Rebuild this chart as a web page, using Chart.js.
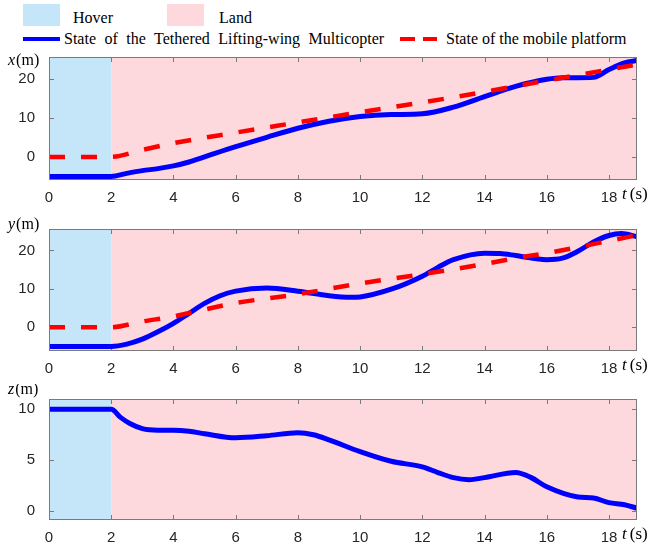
<!DOCTYPE html>
<html><head><meta charset="utf-8">
<script src="https://cdn.jsdelivr.net/npm/chart.js@4.4.0/dist/chart.umd.min.js"></script>
<style>
html,body{margin:0;padding:0;background:#fff;width:650px;height:550px;overflow:hidden;}
body{position:relative;font-family:"Liberation Serif","Times New Roman",serif;}
canvas{position:absolute;left:0;}
.sw{position:absolute;}
.lt{position:absolute;font-size:16px;color:#000;white-space:nowrap;line-height:16px;}
</style></head><body>
<div class="sw" style="left:23px;top:4px;width:37px;height:22px;background:#c5e5f9"></div>
<div class="lt" style="left:73px;top:10px">Hover</div>
<div class="sw" style="left:167px;top:4px;width:37px;height:22px;background:#fdd9de"></div>
<div class="lt" style="left:219px;top:10px">Land</div>
<div class="sw" style="left:23px;top:37px;width:37px;height:4px;background:#0000ff"></div>
<div class="lt" style="left:64px;top:31px;word-spacing:4.5px">State of the Tethered Lifting-wing Multicopter</div>
<div class="sw" style="left:400px;top:37px;width:15px;height:4px;background:#ff0000"></div>
<div class="sw" style="left:423px;top:37px;width:14px;height:4px;background:#ff0000"></div>
<div class="lt" style="left:446px;top:31px">State of the mobile platform</div>
<canvas id="c1" width="650" height="168" style="top:42px"></canvas>
<canvas id="c2" width="650" height="167" style="top:214px"></canvas>
<canvas id="c3" width="650" height="166" style="top:384px"></canvas>
<script>
// ---- data ----
const tTicks = [0, 2, 4, 6, 8, 10, 12, 14, 16, 18];
const xTicks = [0, 10, 20];
const yTicks = [0, 10, 20];
const zTicks = [0, 5, 10];
const hoverEnd = 2;

const tBlueX = [0, 1, 2, 2.5, 3, 3.5, 4, 4.5, 5, 6, 7, 8, 9, 10, 11, 12, 13, 14, 15, 16, 16.5, 17, 17.5, 18, 18.5, 18.9];
const xBlue  = [-5, -5, -5, -4.2, -3.5, -3.0, -2.3, -1.3, 0, 2.6, 5.0, 7.3, 9.1, 10.3, 10.8, 11.0, 12.7, 15.4, 18.0, 19.8, 20.2, 20.2, 20.3, 22.3, 24.0, 24.6];
const tRedX  = [0, 1, 2, 3, 4, 6, 8, 10, 12, 14, 16, 18, 18.9];
const xRed   = [0, 0, 0, 1.8, 3.5, 6.2, 8.8, 11.4, 13.9, 16.6, 19.5, 22.3, 23.6];

const tBlueY = [0, 1, 2, 2.5, 3, 3.5, 4, 4.5, 5, 5.5, 6, 7, 8, 9, 9.7, 10, 11, 12, 12.5, 13, 14, 14.5, 15, 16, 16.5, 17, 17.5, 18, 18.4, 18.9];
const yBlue  = [-5, -5, -5, -4.4, -3.1, -1.2, 1.0, 3.6, 6.2, 8.2, 9.4, 10.2, 9.4, 8.2, 7.8, 7.9, 9.9, 13.3, 15.6, 17.6, 19.3, 19.2, 18.7, 17.6, 18.0, 19.8, 22.2, 23.9, 24.4, 23.6];
const tRedY  = [0, 1, 2, 3, 4, 5, 6, 8, 10, 12, 14, 15, 16, 18, 18.9];
const yRed   = [0, 0, 0, 1.5, 2.8, 4.6, 6.3, 8.6, 11.4, 13.8, 16.5, 18.0, 19.3, 22.5, 24.0];

const tBlueZ = [0, 1, 2, 2.3, 2.6, 3, 3.5, 4, 4.5, 5, 6, 7, 8, 8.5, 9, 10, 11, 12, 12.5, 13, 13.5, 14, 15, 15.5, 16, 17, 17.5, 18, 18.5, 18.9];
const zBlue  = [10, 10, 10, 9.2, 8.6, 8.1, 7.95, 7.95, 7.85, 7.6, 7.2, 7.4, 7.7, 7.5, 7.0, 5.85, 4.9, 4.35, 3.8, 3.3, 3.1, 3.3, 3.8, 3.3, 2.4, 1.4, 1.3, 0.85, 0.65, 0.3];

// ---- styles ----
const hoverColor = '#c5e5f9';
const landColor = '#fdd9de';
const frameColor = '#7a7a7a';
const serif = '"Liberation Serif","Times New Roman",serif';

function pts(t, v) { return t.map((x, i) => ({x: x, y: v[i]})); }

const framePlugin = {
  id: 'frame',
  beforeDatasetsDraw(chart, args, o) {
    const {ctx, chartArea: a, scales: {x, y}} = chart;
    ctx.save();
    const p2 = x.getPixelForValue(hoverEnd);
    ctx.fillStyle = hoverColor;
    ctx.fillRect(a.left, a.top, p2 - a.left, a.bottom - a.top);
    ctx.fillStyle = landColor;
    ctx.fillRect(p2, a.top, a.right - p2, a.bottom - a.top);
    ctx.strokeStyle = frameColor;
    ctx.lineWidth = 1;
    ctx.beginPath();
    tTicks.forEach(v => {
      const px = Math.round(x.getPixelForValue(v)) + 0.5;
      ctx.moveTo(px, a.bottom); ctx.lineTo(px, a.bottom - 5);
      ctx.moveTo(px, a.top); ctx.lineTo(px, a.top + 5);
    });
    o.yt.forEach(v => {
      const py = Math.round(y.getPixelForValue(v)) + 0.5;
      ctx.moveTo(a.left, py); ctx.lineTo(a.left + 5, py);
      ctx.moveTo(a.right, py); ctx.lineTo(a.right - 5, py);
    });
    ctx.stroke();
    ctx.restore();
  },
  afterDatasetsDraw(chart, args, o) {
    const {ctx, chartArea: a} = chart;
    ctx.save();
    ctx.strokeStyle = frameColor;
    ctx.lineWidth = 1;
    ctx.strokeRect(Math.round(a.left) + 0.5, Math.round(a.top) + 0.5, Math.round(a.right - a.left) - 1, Math.round(a.bottom - a.top) - 1);
    ctx.fillStyle = '#000';
    ctx.textBaseline = 'middle';
    ctx.textAlign = 'left';
    // y label
    ctx.font = 'italic 16px ' + serif;
    ctx.fillText(o.v, 8, o.ly);
    const w = ctx.measureText(o.v).width;
    ctx.font = '16px ' + serif;
    ctx.fillText('(m)', 8 + w + 1, o.ly);
    // t label
    const ty = a.bottom + 14.5;
    ctx.font = 'italic 17px ' + serif;
    ctx.fillText('t', 622, ty);
    const wt = ctx.measureText('t').width;
    ctx.font = '17px ' + serif;
    ctx.fillText('(s)', 622 + wt + 3, ty);
    ctx.restore();
  }
};

function makeChart(id, datasets, yMin, yMax, yt, v, ly) {
  return new Chart(document.getElementById(id), {
    type: 'line',
    data: {datasets: datasets},
    options: {
      responsive: false,
      animation: false,
      devicePixelRatio: 1,
      layout: {padding: {left: 0, right: 13, top: 14, bottom: 0}},
      elements: {point: {radius: 0}, line: {cubicInterpolationMode: 'monotone', borderCapStyle: 'butt'}},
      plugins: {legend: {display: false}, tooltip: {enabled: false}, frame: {yt: yt, v: v, ly: ly}},
      scales: {
        x: {
          type: 'linear', min: 0, max: 18.9,
          grid: {display: false}, border: {display: false},
          afterBuildTicks: s => { s.ticks = tTicks.map(t => ({value: t})); },
          afterFit: s => { s.height = 30; },
          ticks: {color: '#262626', font: {family: '"Liberation Sans",Arial,sans-serif', size: 15}, padding: 1, maxRotation: 0, autoSkip: false}
        },
        y: {
          type: 'linear', min: yMin, max: yMax,
          grid: {display: false}, border: {display: false},
          afterBuildTicks: s => { s.ticks = yt.map(t => ({value: t})); },
          afterFit: s => { s.width = 49; },
          ticks: {color: '#262626', font: {family: '"Liberation Sans",Arial,sans-serif', size: 15}, padding: 6}
        }
      }
    },
    plugins: [framePlugin]
  });
}

const blueStyle = {borderColor: '#0000ff', borderWidth: 5, fill: false};
const redStyle = {borderColor: '#ff0000', borderWidth: 4.5, borderDash: [16, 16], fill: false};

makeChart('c1', [
  Object.assign({label: 'State of the mobile platform', data: pts(tRedX, xRed)}, redStyle),
  Object.assign({label: 'State of the Tethered Lifting-wing Multicopter', data: pts(tBlueX, xBlue)}, blueStyle)
], -5.9, 25.5, xTicks, 'x', 19);

makeChart('c2', [
  Object.assign({label: 'State of the mobile platform', data: pts(tRedY, yRed)}, redStyle),
  Object.assign({label: 'State of the Tethered Lifting-wing Multicopter', data: pts(tBlueY, yBlue)}, blueStyle)
], -6.2, 25.6, yTicks, 'y', 11);

makeChart('c3', [
  Object.assign({label: 'State of the Tethered Lifting-wing Multicopter', data: pts(tBlueZ, zBlue)}, blueStyle)
], -0.85, 11, zTicks, 'z', 6);
</script>
</body></html>
